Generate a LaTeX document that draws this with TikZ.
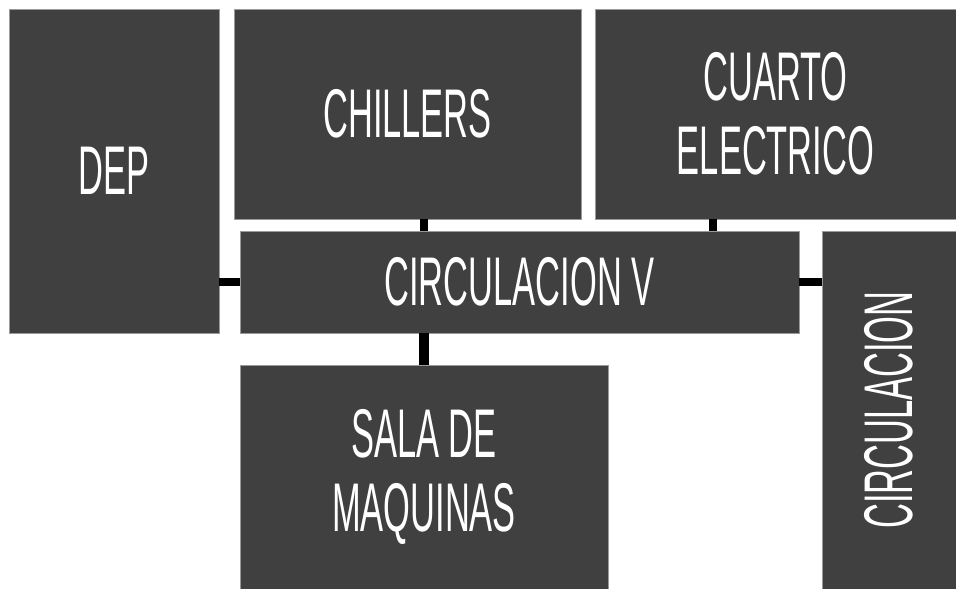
\documentclass[tikz,border=0pt]{standalone}
\usepackage{fontspec}
\newfontfamily\roomfont[FakeStretch=0.5]{Liberation Sans}
\usepackage{xcolor}
\definecolor{roomgray}{HTML}{404040}
\definecolor{roomedge}{HTML}{9A9A9A}
\usepackage{tikz}
\usetikzlibrary{positioning,calc}

\begin{document}
\begin{tikzpicture}[
  x=0.025cm, y=-0.025cm,
  room/.style={rectangle, fill=roomgray, draw=roomedge, line width=0.3pt, inner sep=0pt,
               text=white, align=center, font=\roomfont\fontsize{49}{53}\selectfont},
  link/.style={line width=0.2cm, black},
]
\useasboundingbox (0,0) rectangle (956,589);

% Rooms
\node[room, minimum width=5.25cm, minimum height=8.1cm] (dep) at (114,171) {DEP};
\node[room, minimum width=8.675cm, minimum height=5.25cm] (chillers) at (407.5,114) {CHILLERS};
\node[room, minimum width=9.025cm, minimum height=5.25cm] (cuarto) at (775.5,114) {CUARTO\\ELECTRICO};
\node[room, minimum width=13.975cm, minimum height=2.55cm] (circv) at (519.5,282) {CIRCULACION V};
\node[room, minimum width=9.2cm, minimum height=5.6cm] (sala) at (424,477) {SALA DE\\MAQUINAS};
\node[room, minimum width=3.35cm, minimum height=8.95cm] (circ) at (889,410) {};
\node[text=white, rotate=90, font=\roomfont\fontsize{49}{53}\selectfont] (circtxt) at (circ.center) {CIRCULACION};

% Links to the corridor
\draw[link] (circv.west) -- (circv.west -| dep.east);
\draw[link] (chillers.south -| sala.north) -- (circv.north -| sala.north);
\draw[link] ([xshift=-1.56cm]cuarto.south) -- ([xshift=-1.56cm]cuarto.south |- circv.north);
\draw[link] (circv.east) -- (circv.east -| circ.west);
\draw[link, line width=0.25cm] (sala.north) -- (sala.north |- circv.south);

\end{tikzpicture}
\end{document}
